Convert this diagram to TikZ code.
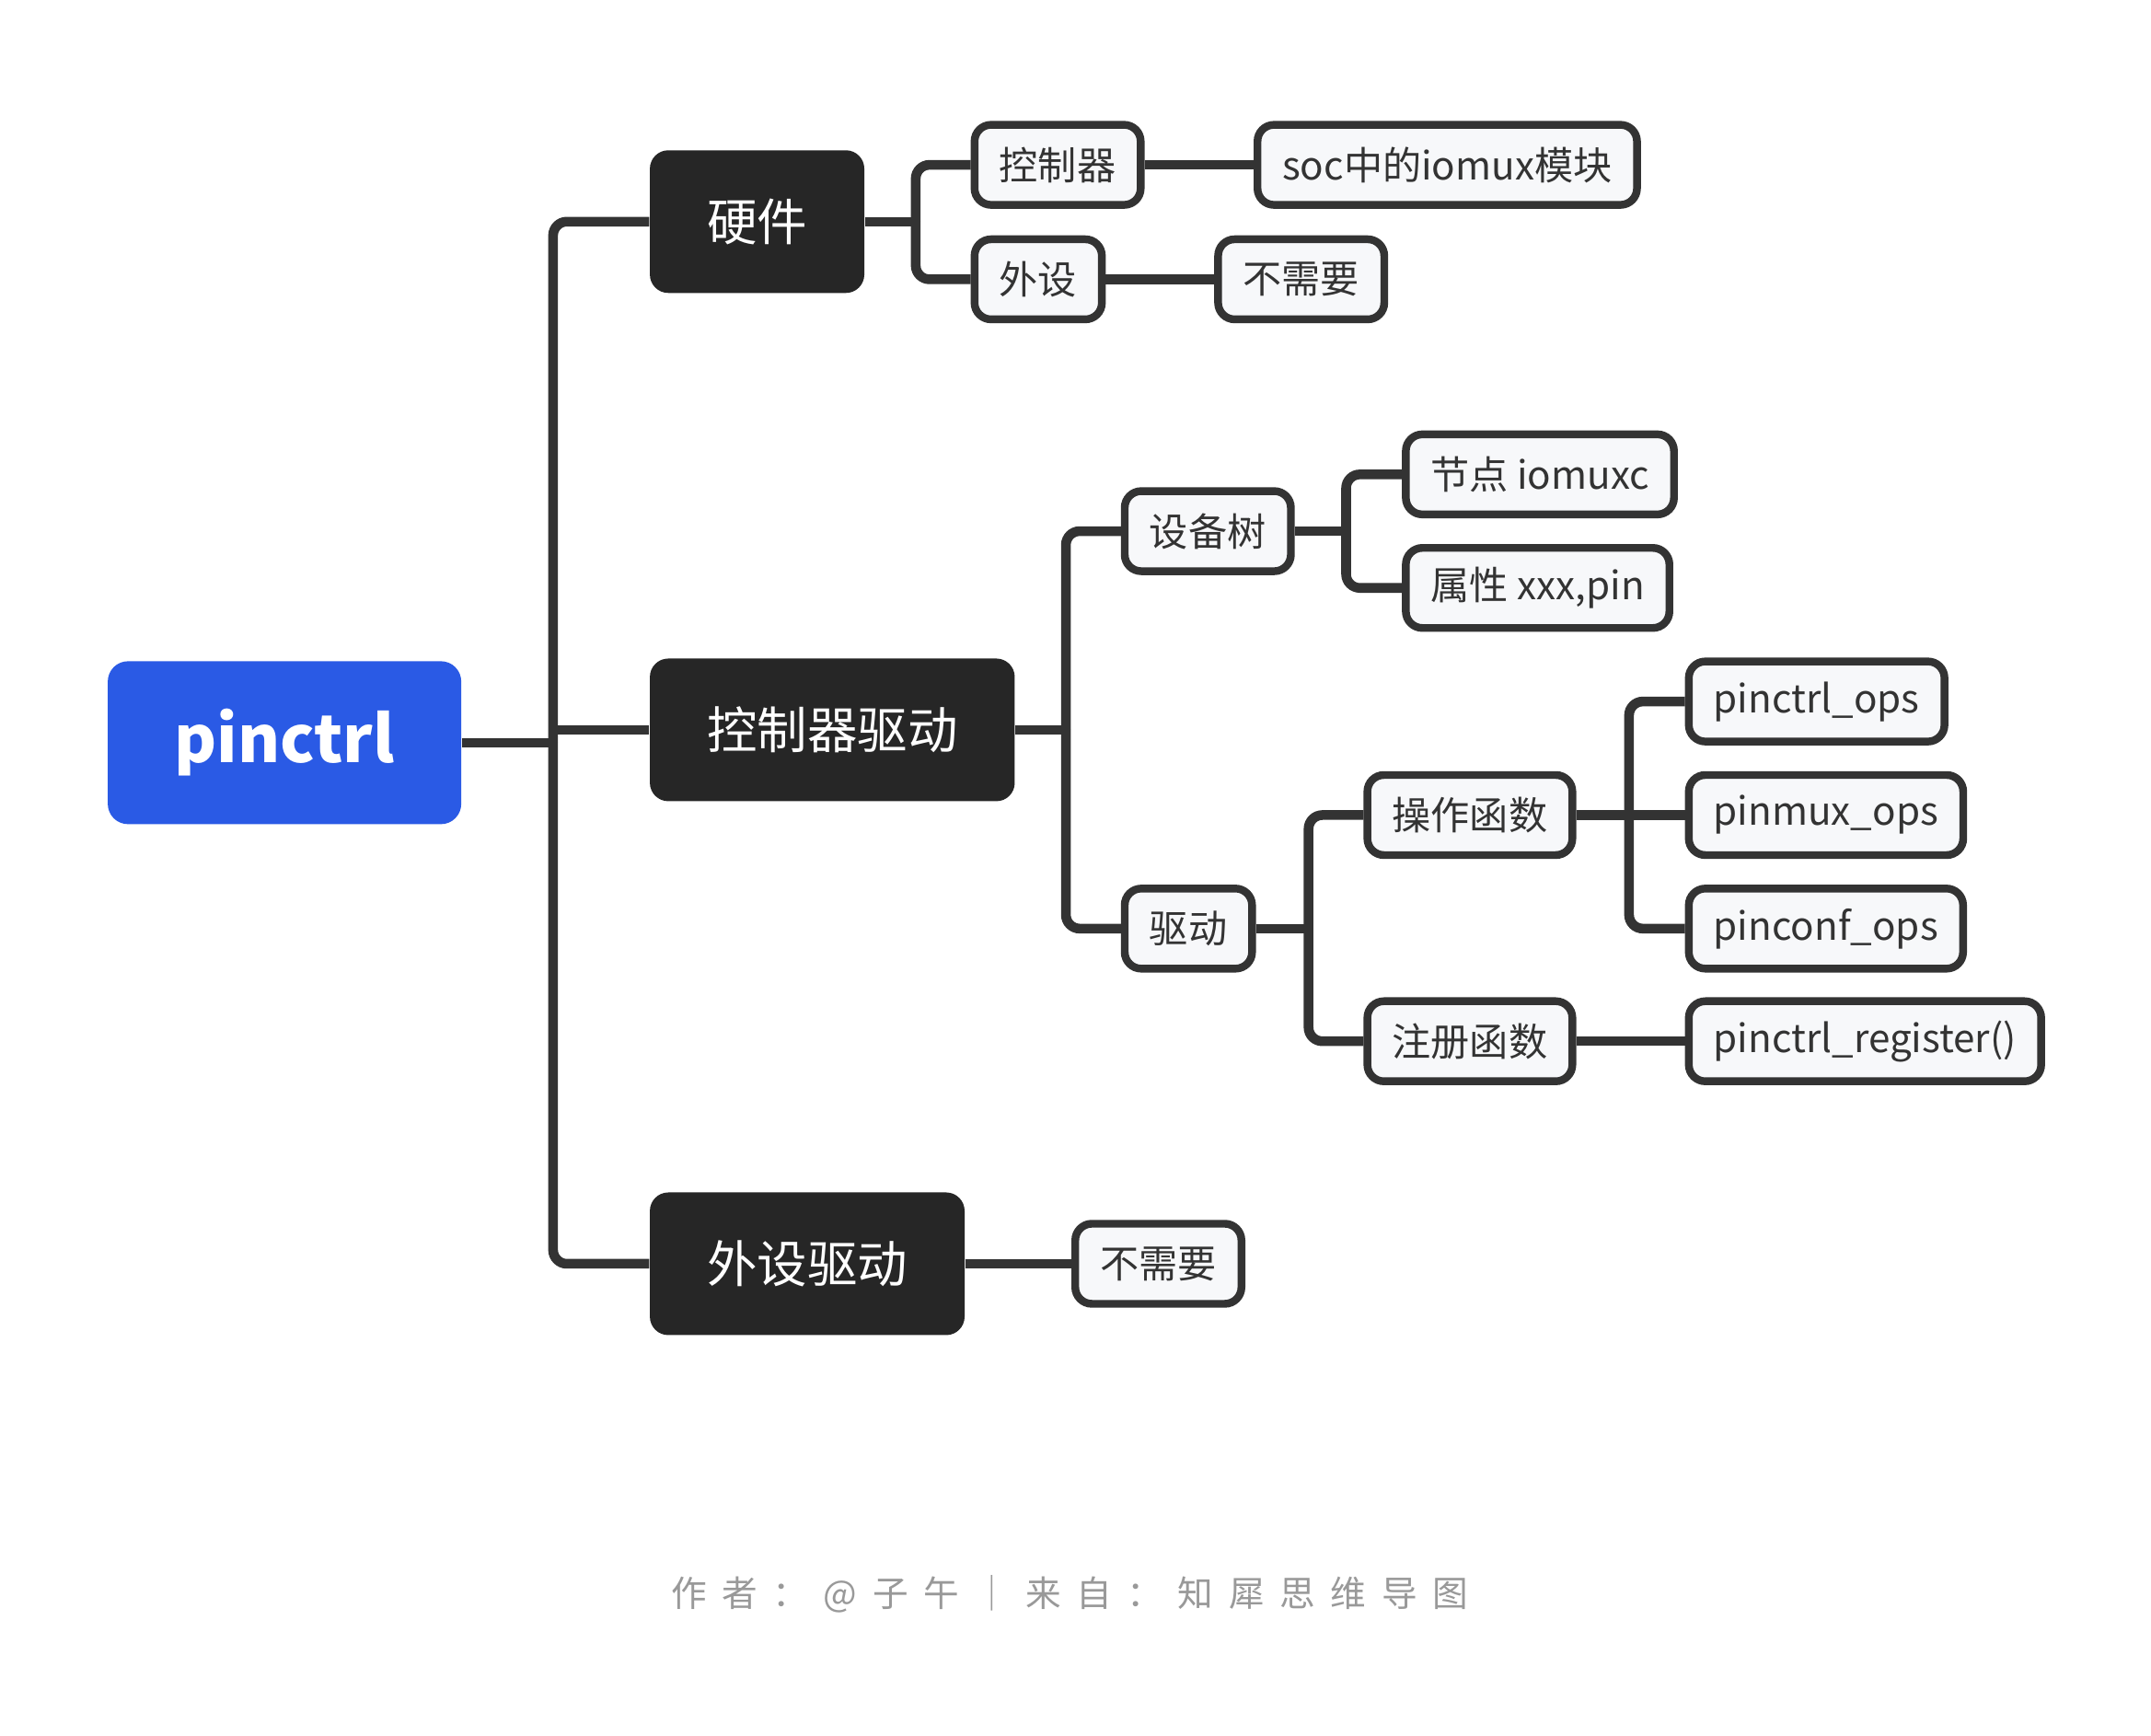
\documentclass[tikz,border=0pt]{standalone}
\usepackage{fontspec}
\setmainfont{Noto Sans CJK SC}
\newfontfamily\footfont[LetterSpace=43]{Noto Sans CJK SC}

\definecolor{linegray}{HTML}{333333}
\definecolor{darkbox}{HTML}{262626}
\definecolor{lightbox}{HTML}{F7F8FA}
\definecolor{rootblue}{HTML}{2A5AE5}
\definecolor{footgray}{HTML}{999999}

\begin{document}
\begin{tikzpicture}[x=0.00995cm,y=-0.00995cm,
    rootbox/.style={fill=rootblue, text=white, rounded corners=0.22cm, minimum height=1.77cm, minimum width=3.84cm, font=\fontsize{20}{24}\selectfont\bfseries, anchor=west},
    topic/.style={fill=darkbox, text=white, rounded corners=0.2cm, minimum height=1.55cm, inner xsep=0.62cm, font=\fontsize{15.5}{18}\selectfont, anchor=west},
    leaf/.style={draw=linegray, line width=2.4pt, fill=lightbox, text=linegray, rounded corners=0.18cm, minimum height=0.87cm, inner xsep=0.27cm, font=\fontsize{12}{14}\selectfont, anchor=west},
    link/.style={draw=linegray, line width=3pt, rounded corners=0.15cm}]
    \useasboundingbox[fill=white] (0,0) rectangle (2349,1895);
    % root and main topics
    \node[rootbox] (root) at (117,811) {pinctrl};
    \node[topic] (hw) at (709,242) {硬件};
    \node[topic] (ctl) at (709,797) {控制器驱动};
    \node[topic] (per) at (709,1380) {外设驱动};
    % hardware
    \node[leaf] (ctrl) at (1060,180) {控制器};
    \node[leaf] (soc) at (1369,180) {soc中的iomux模块};
    \node[leaf] (pdev) at (1060,305) {外设};
    \node[leaf] (no1) at (1326,305) {不需要};
    % controller driver
    \node[leaf] (dts) at (1224,580) {设备树};
    \node[leaf] (drv) at (1224,1014) {驱动};
    \node[leaf] (iomuxc) at (1531,518) {节点 iomuxc};
    \node[leaf] (prop) at (1531,642) {属性 xxx,pin};
    \node[leaf] (opsf) at (1489,890) {操作函数};
    \node[leaf] (regf) at (1489,1137) {注册函数};
    \node[leaf] (pctl) at (1840,766) {pinctrl\_ops};
    \node[leaf] (pmux) at (1840,890) {pinmux\_ops};
    \node[leaf] (pconf) at (1840,1014) {pinconf\_ops};
    \node[leaf] (preg) at (1840,1137) {pinctrl\_register()};
    % peripheral driver
    \node[leaf] (no2) at (1170,1380) {不需要};
    % bus points
    \coordinate (b0) at (604,811);
    \coordinate (b1) at (1000,242);
    \coordinate (b2) at (1164,797);
    \coordinate (b3) at (1470,580);
    \coordinate (b4) at (1429,1014);
    \coordinate (b5) at (1779,890);
    % links
    \draw[link] (root.east) -- (b0);
    \draw[link] (b0) |- (hw.west);
    \draw[link] (b0) |- (per.west);
    \draw[link] (ctl.west -| b0) -- (ctl.west);
    \draw[link] (hw.east) -- (b1);
    \draw[link] (b1) |- (ctrl.west);
    \draw[link] (b1) |- (pdev.west);
    \draw[link] (ctrl) -- (soc);
    \draw[link] (pdev) -- (no1);
    \draw[link] (ctl.east) -- (b2);
    \draw[link] (b2) |- (dts.west);
    \draw[link] (b2) |- (drv.west);
    \draw[link] (dts.east) -- (b3);
    \draw[link] (b3) |- (iomuxc.west);
    \draw[link] (b3) |- (prop.west);
    \draw[link] (drv.east) -- (b4);
    \draw[link] (b4) |- (opsf.west);
    \draw[link] (b4) |- (regf.west);
    \draw[link] (opsf.east) -- (b5);
    \draw[link] (b5) |- (pctl.west);
    \draw[link] (b5) -- (pmux.west);
    \draw[link] (b5) |- (pconf.west);
    \draw[link] (regf) -- (preg);
    \draw[link] (per) -- (no2);
    % footer
    \node[font=\footfont\fontsize{11}{13}\selectfont, text=footgray] (credit) at (1168,1741) {作者：@子午｜来自：知犀思维导图};
\end{tikzpicture}
\end{document}
